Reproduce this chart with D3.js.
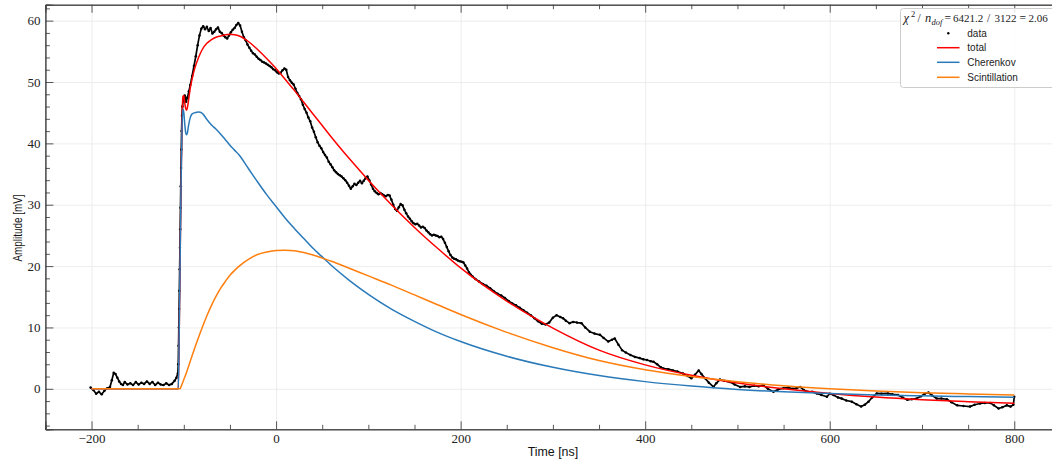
<!DOCTYPE html>
<html><head><meta charset="utf-8">
<script src="https://cdn.jsdelivr.net/npm/d3@7"></script>
<style>body{margin:0;background:#fff;overflow:hidden} svg{display:block}</style>
</head><body><svg id="c" width="1052" height="463"></svg>
<script>
// ---- measured data points [time ns, amplitude mV] ----
const dataPoints = [
[-201,0.2],[-198,-0.2],[-195,-0.8],[-192,-0.5],[-189,-0.9],[-186,-0.3],[-183,0.1],[-180,0.3],[-178,1.4],[-176,2.6],
[-174,2.4],[-172,1.8],[-170,1.2],[-168,0.8],[-166,0.6],[-164,1.1],[-161,0.7],[-158,0.9],[-155,0.6],[-152,1.1],
[-149,0.7],[-146,1.0],[-143,0.8],[-140,1.2],[-137,0.8],[-134,1.1],[-131,0.6],[-128,1.0],[-125,0.7],[-122,0.6],
[-119,0.9],[-116,0.6],[-113,0.8],[-110,1.3],[-108,1.8],[-106.5,2.5],
[-106,4.0],[-105.7,7],[-105.4,10],[-105.1,13],[-104.8,16],[-104.5,19.5],[-104.2,23],[-103.9,26],[-103.6,29.5],[-103.3,33],
[-103.0,36],[-102.7,39],[-102.4,42],[-102.0,44.5],[-101.5,46],[-100.5,47.2],[-99,47.8],[-97.5,46.8],[-96,47.5],[-94.5,48.5],
[-93,49.5],[-91,51],[-89,52.6],[-87,54.2],[-85,56],[-83,57.6],[-81,58.7],[-79,59.1],[-77,58.6],[-75,59.0],
[-73,58.3],[-71,58.8],[-69,57.9],[-67,58.2],[-65,58.6],[-63,58.9],[-61,58.2],[-59,58.0],[-57,57.6],[-55,57.3],
[-53,57.1],[-51,57.6],[-49,58.1],[-47,58.5],[-45,58.8],[-43,59.3],[-41,59.6],[-39,59.2],[-37,58.2],[-35,57.3],
[-33,56.8],[-31,56.1],[-29,55.6],[-27,55.1],[-25,54.7],[-23,54.5],[-21,54.1],[-19,53.8],[-17,53.6],[-15,53.3],
[-13,53.2],[-11,53.0],[-9,52.8],[-7,52.6],[-5,52.4],[-3,52.1],[-1,51.9],[1,51.6],[3,51.4],[5,51.5],
[7,51.9],[9,52.2],[11,52.0],[13,50.8],[15,50.3],[17,49.9],[19,49.6],[21,48.9],[23,48.2],[25,47.7],
[27,47.2],[29,46.3],[31,45.6],[33,45.0],[35,44.2],[37,43.6],[39,42.6],[41,41.9],[43,41.0],[45,40.2],
[47,39.6],[49,39.2],[51,38.6],[53,38.1],[55,37.7],[57,37.0],[59,36.6],[61,36.1],[63,35.6],[65,35.3],
[67,35.0],[69,34.8],[71,34.6],[73,34.3],[75,34.0],[77,33.6],[79,33.1],[81,32.6],[83,33.0],[85,33.4],
[87,33.2],[89,33.6],[91,33.9],[93,33.5],[95,33.9],[97,34.3],[99,34.6],[101,34.0],[103,33.3],[105,32.6],
[107,32.2],[109,31.9],[111,31.7],[113,31.9],[115,31.7],[117,31.5],[119,31.4],[121,31.6],[123,31.5],[125,30.8],
[127,30.0],[129,29.3],[131,29.0],[133,29.6],[135,30.1],[137,29.9],[139,29.2],[141,28.6],[143,28.1],[145,27.7],
[147,27.3],[149,27.0],[151,26.8],[153,26.9],[155,26.6],[157,26.3],[159,26.4],[161,26.2],[163,25.8],[165,25.5],
[167,25.2],[169,25.0],[171,25.1],[173,25.0],[175,24.9],[177,24.7],[179,24.8],[181,24.4],[183,23.8],[185,23.1],
[187,22.4],[189,21.8],[191,21.4],[193,21.2],[195,21.1],[197,20.9],[199,20.8],[201,20.7],[203,20.6],[205,20.1],
[207,19.6],[209,19.0],[211,18.6],[213,18.3],[216,17.9],[220,17.5],[224,17.1],[228,16.8],[232,16.4],[236,15.9],
[240,15.5],[244,15.2],[248,14.8],[252,14.3],[256,13.9],[260,13.6],[264,13.2],[268,12.8],[272,12.4],[276,12.0],
[280,11.5],[284,11.0],[288,10.6],[292,10.5],[296,10.8],[300,11.6],[304,12.0],[308,11.7],[311,11.5],[314,11.1],
[318,10.7],[322,10.9],[326,10.8],[331,10.7],[335,10.0],[340,9.3],[345,9.0],[351,8.8],[355,8.3],[360,7.7],
[364,8.0],[367,8.2],[371,7.2],[375,6.3],[379,5.9],[384,5.5],[389,5.2],[394,5.0],[398,4.8],[402,4.7],
[406,4.5],[409,4.4],[413,4.0],[417,3.5],[420,3.3],[425,3.2],[430,3.0],[435,2.8],[441,2.5],[446,2.1],
[450,1.7],[454,2.3],[458,3.0],[461,2.4],[465,1.7],[469,1.0],[474,0.3],[477,0.9],[481,1.5],[486,1.3],
[492,1.1],[497,0.7],[503,0.3],[508,0.4],[513,0.3],[518,0.5],[523,0.4],[528,0.6],[533,0.0],[539,-0.5],
[544,-0.1],[550,0.1],[555,0.2],[560,0.0],[564,0.1],[568,0.3],[572,-0.2],[576,-0.5],[581,-0.5],[586,-0.75],
[591,-1.0],[597,-1.3],[600,-0.8],[604,-1.0],[609,-1.4],[613,-1.6],[618,-1.9],[624,-2.1],[629,-2.5],[634,-2.9],
[638,-2.6],[642,-2.1],[646,-1.4],[651,-0.75],[656,-0.8],[663,-0.75],[668,-0.9],[674,-1.0],[679,-1.4],[684,-1.8],
[689,-1.7],[694,-1.6],[699,-1.2],[703,-0.8],[707,-0.6],[711,-1.1],[716,-1.6],[721,-1.6],[727,-1.7],[732,-2.2],
[738,-2.7],[745,-2.8],[752,-2.9],[757,-2.6],[763,-2.4],[768,-2.3],[774,-2.3],[778,-2.7],[783,-3.2],[787,-3.0],
[792,-2.7],[796,-2.9],[799,-2.6],[800,-1.3]
];

// ---- fit curves ----
const modelTime = [-200,-106,-105,-104,-103,-102,-101,-100,-99,-98,-97,-96,-95,-93,-91,-88,-84,-80,-75,-70,
  -65,-60,-55,-50,-45,-40,-30,-20,-10,0,10,20,30,40,50,60,80,100,125,150,175,200,250,300,350,400,450,500,550,600,650,700,750,800];
const totalAmp = [0,0,9,21,33.4,42.8,47.6,47.8,46.6,45.7,45.4,45.9,46.9,49.0,50.5,52.3,54.0,55.3,56.3,56.9,
  57.3,57.5,57.7,57.8,57.7,57.5,56.6,55.3,53.8,52.2,50.4,48.6,46.7,44.8,42.9,41.0,37.4,34.0,30.0,26.3,22.9,19.7,14.3,9.9,6.3,3.9,2.2,0.95,0.0,-0.76,-1.35,-1.78,-2.1,-2.36];
const cherenkovAmp = [0,0,9,21,33,42,45.6,45.0,43.2,41.8,41.4,41.8,42.8,44.2,44.8,45.0,45.1,44.9,43.9,43.0,
  42.3,41.5,40.6,39.7,38.9,38.1,35.9,33.7,31.6,29.7,27.8,26.1,24.5,22.9,21.5,20.1,17.6,15.4,13.0,11.0,9.2,7.7,5.3,3.5,2.15,1.17,0.44,-0.1,-0.49,-0.78,-1.0,-1.15,-1.27,-1.36];
const scintAmp = [0,0,0,0,0.35,0.72,1.1,1.5,1.9,2.3,2.7,3.15,3.6,4.5,5.4,6.7,8.4,10.0,11.9,13.6,
  15.1,16.4,17.5,18.5,19.3,20.0,21.1,21.9,22.3,22.55,22.6,22.5,22.2,21.8,21.3,20.8,19.6,18.4,16.9,15.3,13.7,12.1,9.2,6.7,4.6,3.1,2.0,1.16,0.5,0.02,-0.35,-0.63,-0.84,-1.0];

const xMajor = [-200,0,200,400,600,800];
const xMinor = d3.range(-250,851,50).filter(v=>!xMajor.includes(v));
const yMajor = [0,10,20,30,40,50,60];
const yMinor = d3.range(-6,63,2).filter(v=>!yMajor.includes(v));
const legendLabels = ["data","total","Cherenkov","Scintillation"];
const colors = {total:"#ff0000", cherenkov:"#2a7ab9", scint:"#ff7f0e"};

const svg = d3.select("#c");
const L=45.4, R=1060.4, T=4.7, B=429.3;
const x = d3.scaleLinear().domain([-250,850]).range([L,R]);
const y = d3.scaleLinear().domain([-6.6,62.6]).range([B,T]);

svg.append("rect").attr("width",1052).attr("height",463).attr("fill","#fff");
svg.append("defs").append("clipPath").attr("id","clip").append("rect")
  .attr("x",L).attr("y",T).attr("width",R-L).attr("height",B-T);

// grid
svg.append("g").attr("transform",`translate(0,${B})`)
  .call(d3.axisBottom(x).tickValues(xMajor).tickSize(-(B-T)).tickFormat(""))
  .call(g=>{g.select(".domain").remove(); g.selectAll("line").attr("stroke","#ebebeb").attr("stroke-width",0.9);});
svg.append("g").attr("transform",`translate(${L},0)`)
  .call(d3.axisLeft(y).tickValues(yMajor).tickSize(-(R-L)).tickFormat(""))
  .call(g=>{g.select(".domain").remove(); g.selectAll("line").attr("stroke","#ebebeb").attr("stroke-width",0.9);});

const plot = svg.append("g").attr("clip-path","url(#clip)");

// data
plot.append("path").datum(dataPoints)
  .attr("d", d3.line().x(d=>x(d[0])).y(d=>y(d[1])))
  .attr("fill","none").attr("stroke","#000").attr("stroke-width",1.7).attr("stroke-linejoin","round");
plot.append("g").selectAll("circle").data(dataPoints).join("circle")
  .attr("cx",d=>x(d[0])).attr("cy",d=>y(d[1])).attr("r",1.25).attr("fill","#000");

// models
const curve = (arr)=> d3.line().curve(d3.curveMonotoneX).x((d,i)=>x(modelTime[i])).y(d=>y(d))(arr);
plot.append("path").attr("d",curve(totalAmp)).attr("fill","none").attr("stroke",colors.total).attr("stroke-width",1.5);
plot.append("path").attr("d",curve(cherenkovAmp)).attr("fill","none").attr("stroke",colors.cherenkov).attr("stroke-width",1.5);
plot.append("path").attr("d",curve(scintAmp)).attr("fill","none").attr("stroke",colors.scint).attr("stroke-width",1.5);

// axes
const spine = "#444";
function styleAxis(g){ g.select(".domain").attr("stroke",spine).attr("stroke-width",1);
  g.selectAll(".tick line").attr("stroke",spine).attr("stroke-width",0.9);
  g.selectAll("text").attr("font-family","'Liberation Serif', serif").attr("font-size",13).attr("fill","#222"); }
svg.append("g").attr("transform",`translate(0,${B})`)
  .call(d3.axisBottom(x).tickValues(xMajor).tickSize(-8).tickPadding(4).tickFormat(d3.format("d"))).call(styleAxis);
svg.append("g").attr("transform",`translate(0,${B})`)
  .call(d3.axisBottom(x).tickValues(xMinor).tickSize(-4.5).tickFormat("")).call(styleAxis);
svg.append("g").attr("transform",`translate(0,${T})`)
  .call(d3.axisTop(x).tickValues(xMajor).tickSize(-8).tickFormat("")).call(styleAxis);
svg.append("g").attr("transform",`translate(0,${T})`)
  .call(d3.axisTop(x).tickValues(xMinor).tickSize(-4.5).tickFormat("")).call(styleAxis);
svg.append("g").attr("transform",`translate(${L},0)`)
  .call(d3.axisLeft(y).tickValues(yMajor).tickSize(-8).tickPadding(5).tickFormat(d3.format("d"))).call(styleAxis);
svg.append("g").attr("transform",`translate(${L},0)`)
  .call(d3.axisLeft(y).tickValues(yMinor).tickSize(-4.5).tickFormat("")).call(styleAxis);
svg.append("g").attr("transform",`translate(${R},0)`)
  .call(d3.axisRight(y).tickValues(yMajor).tickSize(-8).tickFormat("")).call(styleAxis);

// axis labels
svg.append("text").attr("x",(L+R)/2).attr("y",456).attr("text-anchor","middle")
  .attr("font-family","'Liberation Sans', sans-serif").attr("font-size",12.4).attr("fill","#111").text("Time [ns]");
svg.append("text").attr("transform",`translate(22,228) rotate(-90) scale(0.8,1.05)`).attr("text-anchor","middle")
  .attr("font-family","'Liberation Sans', sans-serif").attr("font-size",12.4).attr("fill","#111").text("Amplitude [mV]");

// legend
const lg = svg.append("g");
lg.append("rect").attr("x",900.5).attr("y",8.5).attr("width",200).attr("height",79).attr("rx",3)
  .attr("fill","#fff").attr("fill-opacity",0.85).attr("stroke","#cccccc").attr("stroke-width",1);
const serif = "'Liberation Serif', serif";
const tt = (xx,yy,txt,size,ital)=> lg.append("text").attr("x",xx).attr("y",yy).attr("font-family",serif)
  .attr("font-size",size).attr("font-style",ital?"italic":"normal").attr("fill","#222").text(txt);
tt(903.5,22,"χ",12.5,true); tt(911,16.5,"2",8.5,false); tt(917.5,22,"/",11.5,false);
tt(925,22,"n",12.5,true); tt(931.5,24.5,"dof",8.5,true);
tt(944.5,22,"=",11.5,false); tt(953,22,"6421.2",11,false); tt(987,22,"/",11.5,false);
tt(994.5,22,"3122",11,false); tt(1019.5,22,"=",11.5,false); tt(1028.5,22,"2.06",11,false);
const rows = [33.3,47.7,62.3,77.3];
lg.append("circle").attr("cx",948.3).attr("cy",rows[0]).attr("r",1.2).attr("fill","#000");
[colors.total,colors.cherenkov,colors.scint].forEach((c,i)=>{
  lg.append("line").attr("x1",937).attr("x2",959.5).attr("y1",rows[i+1]).attr("y2",rows[i+1]).attr("stroke",c).attr("stroke-width",1.5);
});
legendLabels.forEach((s,i)=> lg.append("text").attr("x",967.3).attr("y",rows[i]).attr("dy","0.35em")
  .attr("font-family","'Liberation Sans', sans-serif").attr("font-size",10).attr("fill","#222").text(s));
</script></body></html>
